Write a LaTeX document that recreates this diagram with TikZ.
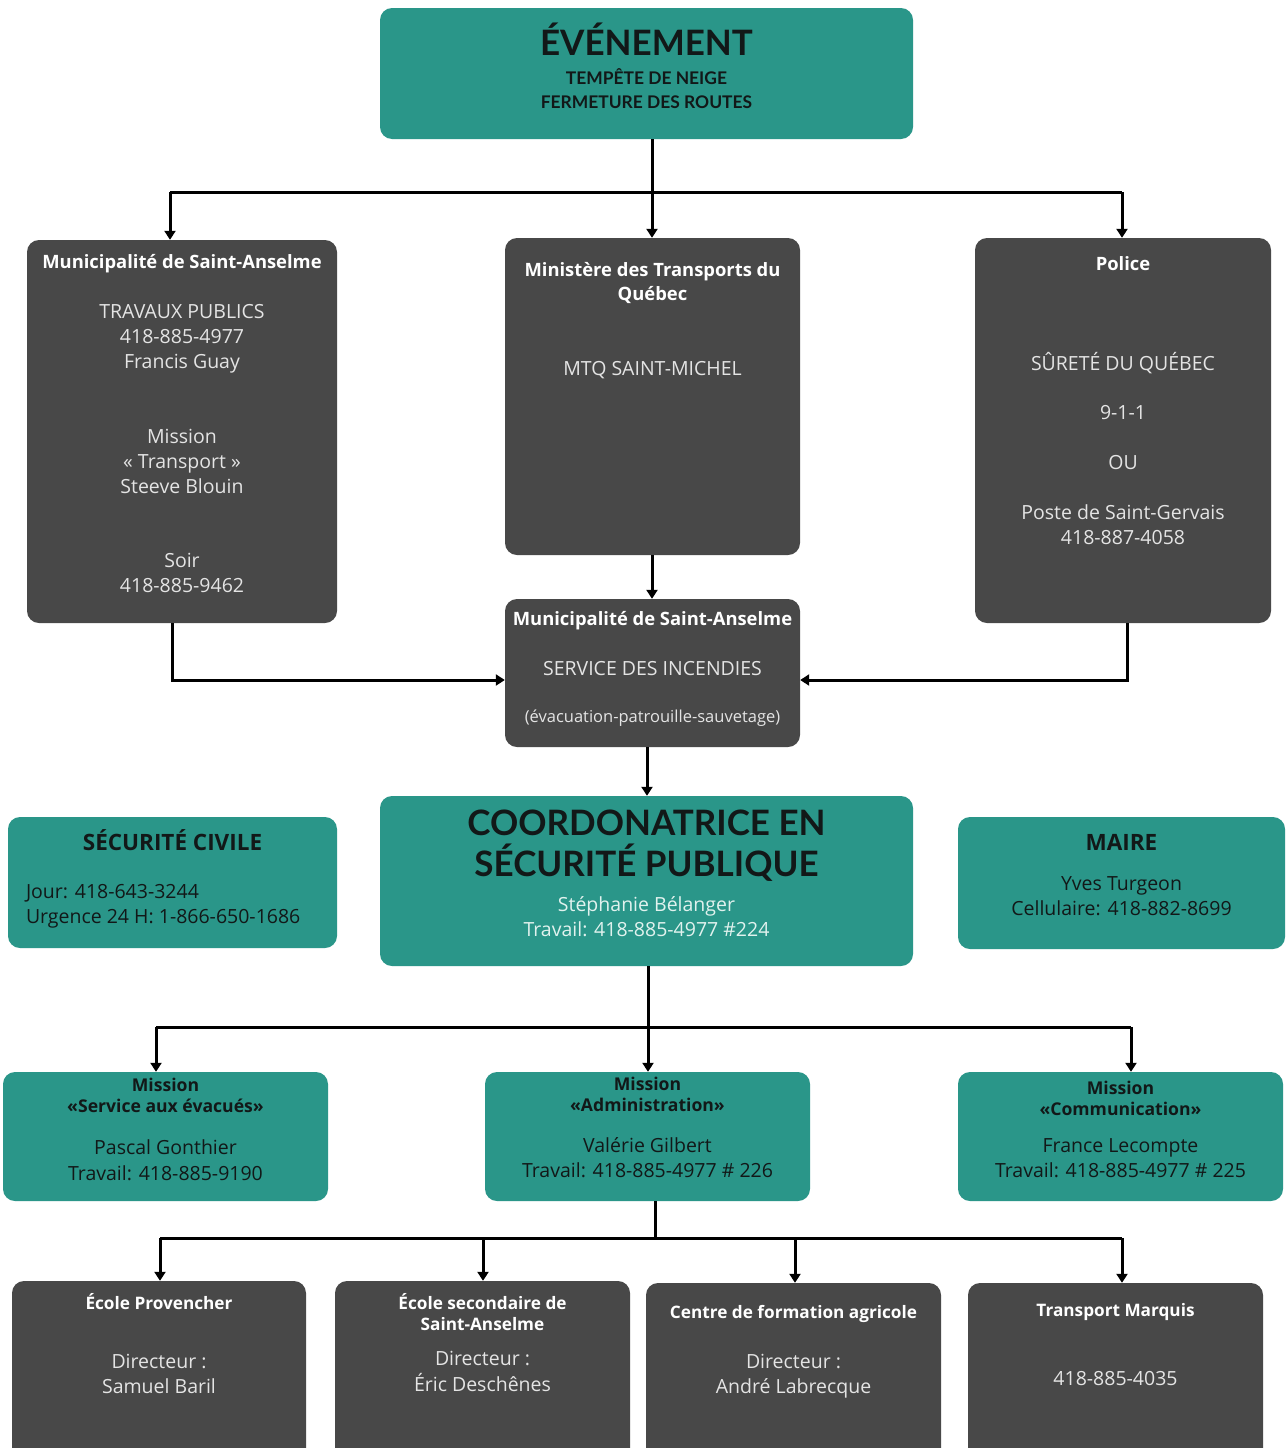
\documentclass[tikz,border=0pt]{standalone}
\usepackage{fontspec}
\setmainfont{Open Sans}
\newfontfamily\headfont{Lato}
\usetikzlibrary{arrows.meta}
\definecolor{tealbox}{RGB}{42,150,137}
\definecolor{greybox}{RGB}{72,72,72}
\definecolor{inkdark}{RGB}{18,24,24}
\definecolor{lightbody}{RGB}{228,228,228}
\definecolor{lightteal}{RGB}{225,242,238}
\newcommand\bt[4]{\begin{minipage}[c][#2][t]{#1}\centering\lineskiplimit=-\maxdimen\lineskip=0pt\fontsize{19.5}{0pt}\selectfont\rule{0pt}{#3}\ignorespaces#4\end{minipage}}
\newcommand\tbf{\color{white}\bfseries\fontsize{18.4}{0pt}\selectfont}
\newcommand\mbf{\bfseries\fontsize{17.6}{0pt}\selectfont}
\newcommand\bbf{\color{white}\bfseries\fontsize{17.2}{0pt}\selectfont}
\tikzset{
  tbox/.style={fill=tealbox, rounded corners=12pt, inner sep=0pt, text=inkdark},
  dbox/.style={fill=greybox, rounded corners=12pt, inner sep=0pt, text=lightbody},
  ln/.style={line width=3pt, draw=black},
  arr/.style={ln, -{Triangle[length=9pt,width=11pt]}},
}
\begin{document}
\begin{tikzpicture}[x=1pt,y=-1pt]
\useasboundingbox (0,0) rectangle (1286,1448);
\fill[white] (0,0) rectangle (1286,1448);
\clip (0,0) rectangle (1286,1448);

% top event
\node[tbox] (ev) at (646.5,73.5) {\bt{533pt}{131pt}{47pt}{{\headfont\bfseries\fontsize{35}{0pt}\selectfont ÉVÉNEMENT}\\[29pt]{\headfont\bfseries\fontsize{17.4}{0pt}\selectfont TEMPÊTE DE NEIGE\\[24pt]FERMETURE DES ROUTES}}};

% second row
\node[dbox] (muni) at (182,431.5) {\bt{310pt}{383pt}{28pt}{{\tbf Municipalité de Saint-Anselme}\\[50pt]TRAVAUX PUBLICS\\[25pt]418-885-4977\\[25pt]Francis Guay\\[75pt]Mission\\[25pt]«~Transport~»\\[25pt]Steeve Blouin\\[74pt]Soir\\[25pt]418-885-9462}};
\node[dbox] (mtq) at (652.5,396.5) {\bt{295pt}{317pt}{38pt}{{\tbf Ministère des Transports du\\[24pt]Québec}\\[75pt]MTQ SAINT-MICHEL}};
\node[dbox] (pol) at (1123,430.5) {\bt{296pt}{385pt}{32pt}{{\tbf Police}\\[100pt]SÛRETÉ DU QUÉBEC\\[49pt]9-1-1\\[50pt]OU\\[50pt]Poste de Saint-Gervais\\[25pt]418-887-4058}};
\node[dbox] (inc) at (652.5,673) {\bt{295pt}{148pt}{26pt}{{\tbf Municipalité de Saint-Anselme}\\[50pt]SERVICE DES INCENDIES\\[47pt]{\fontsize{16.5}{0pt}\selectfont (évacuation-patrouille-sauvetage)}}};

% third row
\node[tbox] (sc) at (172.5,882.5) {\bt{329pt}{131pt}{33pt}{{\bfseries\fontsize{22.5}{0pt}\selectfont SÉCURITÉ CIVILE}\\[48pt]\makebox[293pt][l]{Jour: 418-643-3244}\\[25pt]\makebox[293pt][l]{Urgence 24 H: 1-866-650-1686}}};
\node[tbox] (coord) at (646.5,881) {\bt{533pt}{170pt}{39pt}{{\headfont\bfseries\fontsize{35}{0pt}\selectfont COORDONATRICE EN\\[41pt]SÉCURITÉ PUBLIQUE}\\[35pt]{\color{lightteal}Stéphanie Bélanger\\[25pt]Travail: 418-885-4977 \#224}}};
\node[tbox] (maire) at (1121.5,883) {\bt{327pt}{132pt}{33pt}{{\bfseries\fontsize{22.5}{0pt}\selectfont MAIRE}\\[40pt]Yves Turgeon\\[25pt]Cellulaire: 418-882-8699}};

% missions
\node[tbox] (m1) at (165.5,1136.5) {\bt{325pt}{129pt}{19pt}{{\mbf Mission\\[21pt]«Service aux évacués»}\\[42pt]Pascal Gonthier\\[26pt]Travail: 418-885-9190}};
\node[tbox] (m2) at (647.5,1136.5) {\bt{325pt}{129pt}{18pt}{{\mbf Mission\\[21pt]«Administration»}\\[41pt]Valérie Gilbert\\[25pt]Travail: 418-885-4977 \# 226}};
\node[tbox] (m3) at (1120.5,1136.5) {\bt{325pt}{129pt}{22pt}{{\mbf Mission\\[21pt]«Communication»}\\[37pt]France Lecompte\\[25pt]Travail: 418-885-4977 \# 225}};

% bottom row
\node[dbox] (b1) at (159,1371) {\bt{294pt}{180pt}{28pt}{{\bbf École Provencher}\\[59pt]Directeur :\\[25pt]Samuel Baril}};
\node[dbox] (b2) at (482.5,1371) {\bt{295pt}{180pt}{28pt}{{\bbf École secondaire de\\[21pt]Saint-Anselme}\\[35pt]Directeur :\\[26pt]Éric Deschênes}};
\node[dbox] (b3) at (793.5,1373) {\bt{295pt}{180pt}{35pt}{{\bbf Centre de formation agricole}\\[50pt]Directeur :\\[25pt]André Labrecque}};
\node[dbox] (b4) at (1115.5,1373) {\bt{295pt}{180pt}{33pt}{{\bbf Transport Marquis}\\[69pt]418-885-4035}};

% connectors: event -> row 2
\coordinate (t0) at (652,192);
\coordinate (tL) at (170,192);
\coordinate (tR) at (1122,192);
\draw[ln] (ev.south -| t0) -- (t0);
\draw[ln] (tL) -- (tR);
\draw[arr] (tL) -- (tL |- muni.north);
\draw[arr] (t0) -- (t0 |- mtq.north);
\draw[arr] (tR) -- (tR |- pol.north);
\draw[arr] (mtq.south -| t0) -- (inc.north -| t0);

% side feeds into fire service
\coordinate (mL) at (172,680);
\coordinate (pR) at (1127,680);
\draw[arr] (mL |- muni.south) -- (mL) -- (mL -| inc.west);
\draw[arr] (pR |- pol.south) -- (pR) -- (pR -| inc.east);

% fire service -> coordinator
\coordinate (c0) at (647,0);
\draw[arr] (inc.south -| c0) -- (coord.north -| c0);

% coordinator -> missions
\coordinate (k0) at (648,1027);
\coordinate (kL) at (156,1027);
\coordinate (kR) at (1131,1027);
\draw[ln] (kL) -- (kR);
\draw[arr] (coord.south -| k0) -- (m2.north -| k0);
\draw[arr] (kL) -- (kL |- m1.north);
\draw[arr] (kR) -- (kR |- m3.north);

% administration -> bottom row
\coordinate (a0) at (655,1238);
\coordinate (aL) at (160,1238);
\coordinate (aR) at (1122,1238);
\coordinate (a2) at (483,1238);
\coordinate (a3) at (795,1238);
\draw[ln] (m2.south -| a0) -- (a0);
\draw[ln] (aL) -- (aR);
\draw[arr] (aL) -- (aL |- b1.north);
\draw[arr] (a2) -- (a2 |- b2.north);
\draw[arr] (a3) -- (a3 |- b3.north);
\draw[arr] (aR) -- (aR |- b4.north);
\end{tikzpicture}
\end{document}
